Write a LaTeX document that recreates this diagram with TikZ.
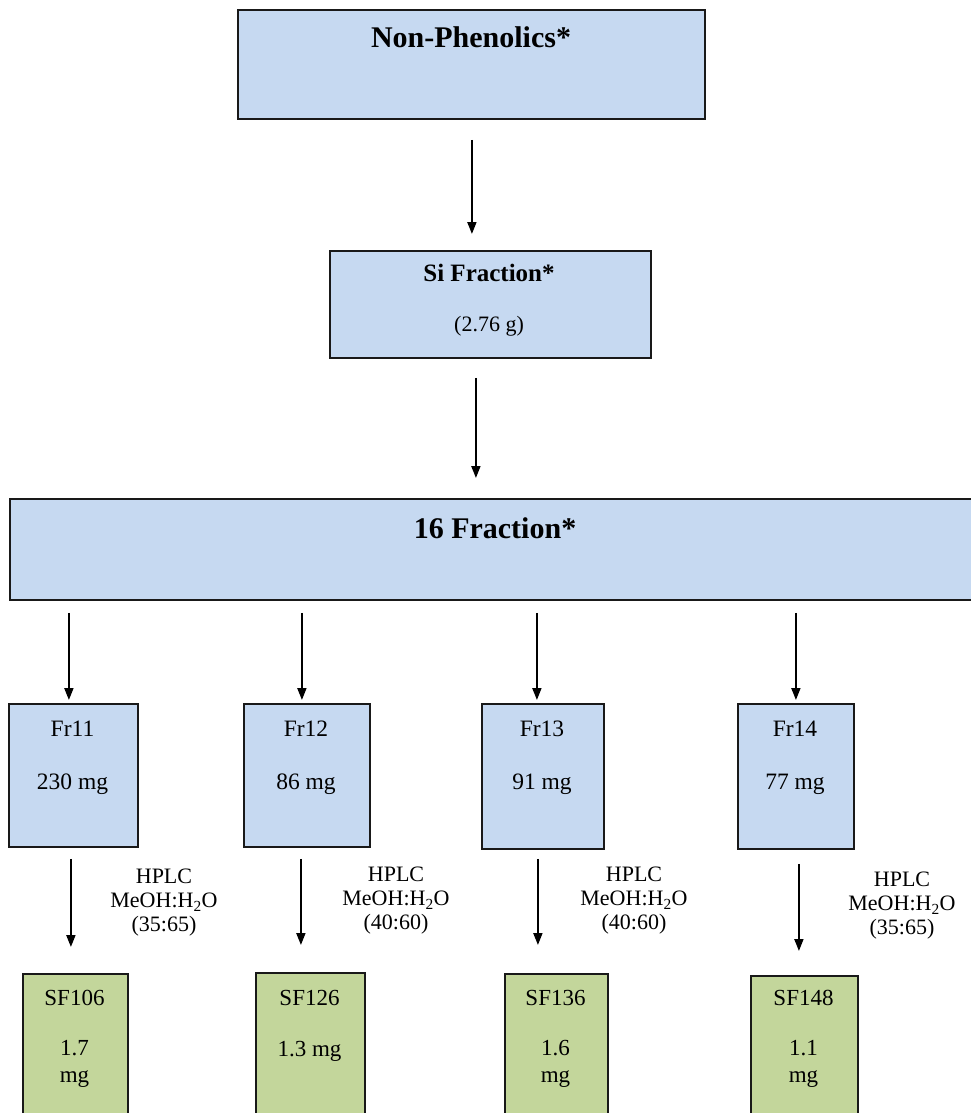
\documentclass[tikz,border=0pt]{standalone}
\usepackage{fontspec}
\setmainfont{Liberation Serif}
\usetikzlibrary{arrows.meta,calc}
\definecolor{boxblue}{HTML}{C6D9F1}
\definecolor{boxgreen}{HTML}{C3D69B}
\tikzset{
  bluebox/.style={draw=black!90,line width=1.8pt,fill=boxblue,anchor=north west,inner sep=0pt},
  greenbox/.style={draw=black!90,line width=1.8pt,fill=boxgreen,anchor=north west,inner sep=0pt},
  arr/.style={line width=1.8pt,-{Triangle[length=12pt,width=9pt]}},
  bigtitle/.style={font=\fontsize{30}{34}\selectfont\bfseries,inner sep=0pt},
  midtitle/.style={font=\fontsize{25}{28}\selectfont\bfseries,inner sep=0pt},
  txtbox/.style={font=\fontsize{23.5}{28}\selectfont,inner sep=0pt},
  txtsf/.style={font=\fontsize{23}{28}\selectfont,inner sep=0pt},
  txtmass/.style={font=\fontsize{22}{26}\selectfont,inner sep=0pt},
  cond/.style={font=\fontsize{22}{24}\selectfont,align=center,inner sep=0pt}
}
\begin{document}
\begin{tikzpicture}[x=1pt,y=1pt]
\useasboundingbox (0,0) rectangle (970,-1113);
% top boxes
\node[bluebox,minimum width=467pt,minimum height=109pt] (np) at (237,-9) {};
\node[bigtitle] (npt) at (471,-37) {Non-Phenolics*};
\node[bluebox,minimum width=321pt,minimum height=107pt] (si) at (329,-250) {};
\node[midtitle] (sit) at (489,-273) {Si Fraction*};
\node[txtmass] (siw) at (489,-326) {(2.76 g)};
\node[bluebox,minimum width=1100pt,minimum height=101pt] (fr16) at (9,-498) {};
\node[bigtitle] (fr16t) at (495,-528) {16 Fraction*};
% fraction boxes
\node[bluebox,minimum width=129pt,minimum height=143pt] (f1) at (8,-703) {};
\node[bluebox,minimum width=126pt,minimum height=143pt] (f2) at (243,-703) {};
\node[bluebox,minimum width=122pt,minimum height=145pt] (f3) at (481,-703) {};
\node[bluebox,minimum width=116pt,minimum height=145pt] (f4) at (737,-703) {};
\node[txtbox] (f1n) at (72.5,-729) {Fr11};
\node[txtbox] (f1m) at (72.5,-784) {230 mg};
\node[txtbox] (f2n) at (306,-729) {Fr12};
\node[txtbox] (f2m) at (306,-784) {86 mg};
\node[txtbox] (f3n) at (542,-729) {Fr13};
\node[txtbox] (f3m) at (542,-784) {91 mg};
\node[txtbox] (f4n) at (795,-729) {Fr14};
\node[txtbox] (f4m) at (795,-784) {77 mg};
% subfraction boxes
\node[greenbox,minimum width=105pt,minimum height=170pt] (s1) at (22,-973) {};
\node[greenbox,minimum width=109pt,minimum height=170pt] (s2) at (255,-972) {};
\node[greenbox,minimum width=103pt,minimum height=170pt] (s3) at (504,-973) {};
\node[greenbox,minimum width=107pt,minimum height=170pt] (s4) at (750,-975) {};
\node[txtsf] (s1n) at (74.5,-998) {SF106};
\node[txtsf] (s1a) at (74.5,-1048) {1.7};
\node[txtsf] (s1b) at (74.5,-1079) {mg};
\node[txtsf] (s2n) at (309.5,-998) {SF126};
\node[txtsf] (s2a) at (309.5,-1051) {1.3 mg};
\node[txtsf] (s3n) at (555.5,-998) {SF136};
\node[txtsf] (s3a) at (555.5,-1048) {1.6};
\node[txtsf] (s3b) at (555.5,-1079) {mg};
\node[txtsf] (s4n) at (803.5,-998) {SF148};
\node[txtsf] (s4a) at (803.5,-1048) {1.1};
\node[txtsf] (s4b) at (803.5,-1079) {mg};
% condition labels
\node[cond] (c1) at (164,-903) {HPLC\\MeOH:H\textsubscript{2}O\\(35:65)};
\node[cond] (c2) at (396,-901) {HPLC\\MeOH:H\textsubscript{2}O\\(40:60)};
\node[cond] (c3) at (634,-901) {HPLC\\MeOH:H\textsubscript{2}O\\(40:60)};
\node[cond] (c4) at (902,-906) {HPLC\\MeOH:H\textsubscript{2}O\\(35:65)};
% arrows
\draw[arr] ($(np.south)+(0.5,-20)$) -- ($(si.north)+(-18.5,16)$);
\draw[arr] ($(si.south)+(-14.5,-19)$) -- ($(si.south |- fr16.north)+(-14.5,20)$);
\draw[arr] ($(f1.north |- fr16.south)+(-4.5,-12)$) -- ($(f1.north)+(-4.5,3)$);
\draw[arr] ($(f2.north |- fr16.south)+(-5,-12)$) -- ($(f2.north)+(-5,3)$);
\draw[arr] ($(f3.north |- fr16.south)+(-6,-12)$) -- ($(f3.north)+(-6,3)$);
\draw[arr] ($(f4.north |- fr16.south)+(0,-12)$) -- ($(f4.north)+(0,3)$);
\draw[arr] ($(f1.south)+(-2.5,-11)$) -- ($(f1.south |- s1.north)+(-2.5,26)$);
\draw[arr] ($(f2.south)+(-6,-11)$) -- ($(f2.south |- s2.north)+(-6,27)$);
\draw[arr] ($(f3.south)+(-5,-9)$) -- ($(f3.south |- s3.north)+(-5,28)$);
\draw[arr] ($(f4.south)+(3,-14)$) -- ($(f4.south |- s4.north)+(3,24)$);
\end{tikzpicture}
\end{document}
